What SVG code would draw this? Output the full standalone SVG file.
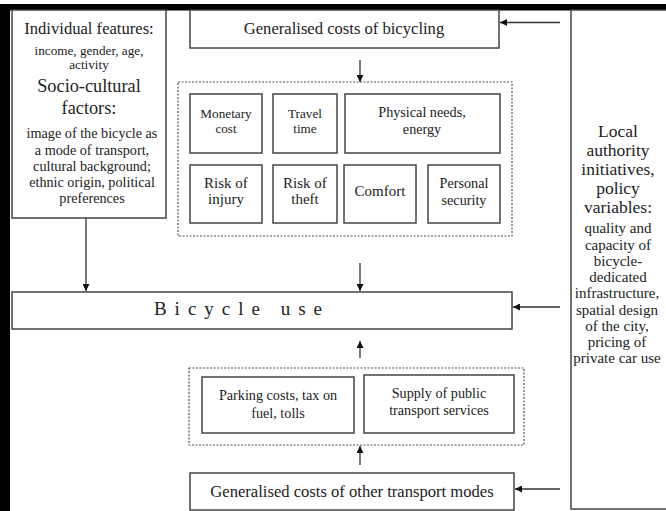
<svg xmlns="http://www.w3.org/2000/svg" width="666" height="511" viewBox="0 0 666 511">
<style>
  text { font-family: "Liberation Serif", "Times New Roman", serif; fill: #222; text-anchor: middle; }
  .box { fill: #fff; stroke: #444; stroke-width: 1.5; }
  .grp { fill: none; stroke: #555; stroke-width: 1.2; stroke-dasharray: 2 1.5; }
  .conn { stroke: #333; stroke-width: 1.3; fill: none; marker-end: url(#ah); }
  .s11 { font-size: 13.2px; }
  .s12 { font-size: 14.2px; }
  .s13 { font-size: 15px; }
  .s14 { font-size: 16.6px; }
  .s16 { font-size: 18.3px; }
  .s17 { font-size: 17.5px; }
</style>
<defs>
  <marker id="ah" viewBox="0 0 10 10" refX="10" refY="5" markerWidth="7" markerHeight="7" markerUnits="userSpaceOnUse" orient="auto">
    <path d="M0,0 L10,5 L0,10 z" fill="#111"/>
  </marker>
</defs>
<rect x="0" y="0" width="666" height="511" fill="#fff"/>
<!-- frame bars -->
<rect x="0" y="4" width="666" height="6.5" fill="#000"/>
<rect x="0" y="4" width="10" height="507" fill="#000"/>

<g id="individual">
  <rect class="box" x="12" y="10" width="154" height="208"/>
  <text class="s14" x="89" y="34">Individual features:</text>
  <text class="s11" x="89" y="55">income, gender, age,</text>
  <text class="s11" x="89" y="69">activity</text>
  <text class="s16" x="89" y="92">Socio-cultural</text>
  <text class="s16" x="89" y="114">factors:</text>
  <text class="s12" x="92" y="138">image of the bicycle as</text>
  <text class="s12" x="92" y="155">a mode of transport,</text>
  <text class="s12" x="92" y="171">cultural background;</text>
  <text class="s12" x="92" y="187">ethnic origin, political</text>
  <text class="s12" x="92" y="203">preferences</text>
</g>

<g id="gen-bicycling">
  <rect class="box" x="190" y="10" width="309" height="38"/>
  <text class="s14" x="344" y="34">Generalised costs of bicycling</text>
</g>

<g id="local-authority">
  <rect class="box" x="571" y="10" width="100" height="499"/>
  <text class="s17" x="618" y="137">Local</text>
  <text class="s17" x="618" y="156">authority</text>
  <text class="s17" x="618" y="175">initiatives,</text>
  <text class="s17" x="618" y="194">policy</text>
  <text class="s17" x="618" y="213">variables:</text>
  <text class="s13" x="618" y="233">quality and</text>
  <text class="s13" x="618" y="250">capacity of</text>
  <text class="s13" x="618" y="266">bicycle-</text>
  <text class="s13" x="618" y="282">dedicated</text>
  <text class="s13" x="617" y="298">infrastructure,</text>
  <text class="s13" x="617" y="315">spatial design</text>
  <text class="s13" x="617" y="331">of the city,</text>
  <text class="s13" x="617" y="347">pricing of</text>
  <text class="s13" x="617" y="363">private car use</text>
</g>

<g id="cost-group">
  <rect class="grp" x="178" y="82" width="334" height="154"/>
</g>
<g id="monetary">
  <rect class="box" x="190" y="94" width="72" height="59"/>
  <text class="s11" x="226" y="118">Monetary</text>
  <text class="s11" x="226" y="133">cost</text>
</g>
<g id="travel">
  <rect class="box" x="273" y="94" width="64" height="59"/>
  <text class="s11" x="305" y="118">Travel</text>
  <text class="s11" x="305" y="133">time</text>
</g>
<g id="physical">
  <rect class="box" x="345" y="94" width="155" height="59"/>
  <text class="s12" x="422" y="117">Physical needs,</text>
  <text class="s12" x="422" y="134">energy</text>
</g>
<g id="injury">
  <rect class="box" x="190" y="165" width="72" height="58"/>
  <text class="s13" x="226" y="188">Risk of</text>
  <text class="s13" x="226" y="204">injury</text>
</g>
<g id="theft">
  <rect class="box" x="273" y="165" width="64" height="58"/>
  <text class="s13" x="305" y="188">Risk of</text>
  <text class="s13" x="305" y="204">theft</text>
</g>
<g id="comfort">
  <rect class="box" x="344" y="165" width="72" height="58"/>
  <text class="s13" x="380" y="196">Comfort</text>
</g>
<g id="personal">
  <rect class="box" x="428" y="165" width="72" height="58"/>
  <text class="s12" x="464" y="188">Personal</text>
  <text class="s12" x="464" y="205">security</text>
</g>

<g id="bicycle-use">
  <rect class="box" x="12" y="292" width="500" height="37"/>
  <text x="242" y="315" style="font-size:19px; letter-spacing:8px;">Bicycle use</text>
</g>

<g id="other-group">
  <rect class="grp" x="189" y="368" width="335" height="77"/>
</g>
<g id="parking">
  <rect class="box" x="202" y="377" width="152" height="56"/>
  <text class="s12" x="278" y="400">Parking costs, tax on</text>
  <text class="s12" x="278" y="418">fuel, tolls</text>
</g>
<g id="public-transport">
  <rect class="box" x="364" y="375" width="150" height="58"/>
  <text class="s12" x="439" y="398">Supply of public</text>
  <text class="s12" x="439" y="415">transport services</text>
</g>

<g id="gen-other">
  <rect class="box" x="190" y="473" width="324" height="37"/>
  <text class="s14" x="352" y="497">Generalised costs of other transport modes</text>
</g>

<g id="connectors">
  <line class="conn" x1="560" y1="22.5" x2="500" y2="22.5"/>
  <line class="conn" x1="360" y1="60" x2="360" y2="82"/>
  <line class="conn" x1="86" y1="218" x2="86" y2="291"/>
  <line class="conn" x1="360" y1="263" x2="360" y2="291"/>
  <line class="conn" x1="560" y1="307" x2="513" y2="307"/>
  <line class="conn" x1="360" y1="358" x2="360" y2="341"/>
  <line class="conn" x1="360" y1="465" x2="360" y2="446"/>
  <line class="conn" x1="560" y1="489" x2="515" y2="489"/>
</g>
</svg>
